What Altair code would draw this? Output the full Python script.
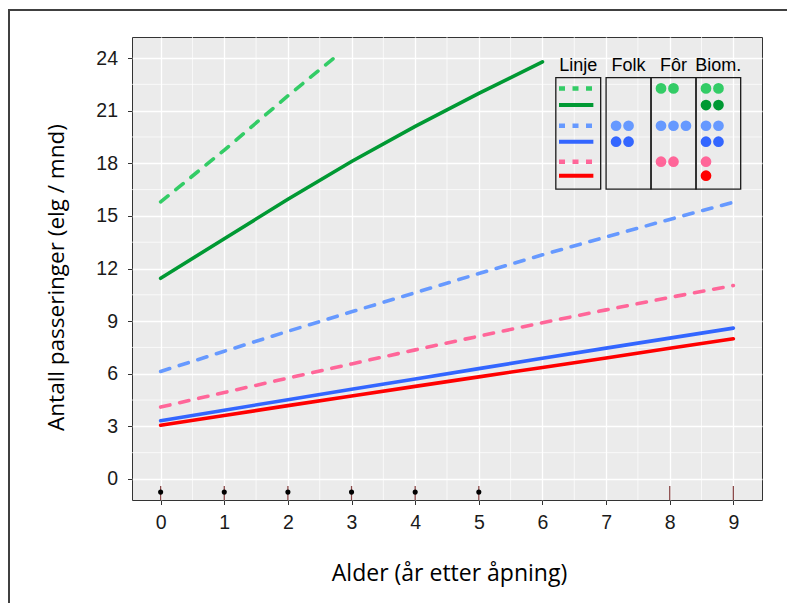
import altair as alt
import pandas as pd

# Modellerte passeringer per måned etter alder på passasjen
alder_gronn_stiplet = [0, 1, 2, 2.75]
gronn_stiplet = [15.8, 18.75, 21.85, 24.08]
alder_gronn_hel = [0, 1, 2, 3, 4, 5, 6]
gronn_hel = [11.44, 13.7, 15.95, 18.1, 20.1, 21.98, 23.78]
alder_full = [0, 1, 2, 3, 4, 5, 6, 7, 8, 9]
blaa_stiplet = [6.13, 7.28, 8.42, 9.53, 10.62, 11.71, 12.78, 13.8, 14.8, 15.78]
rosa_stiplet = [4.10, 4.93, 5.75, 6.56, 7.36, 8.14, 8.91, 9.64, 10.35, 11.03]
blaa_hel = [3.32, 3.92, 4.52, 5.11, 5.70, 6.29, 6.88, 7.46, 8.03, 8.60]
rod_hel = [3.06, 3.62, 4.18, 4.73, 5.28, 5.82, 6.36, 6.90, 7.45, 7.99]

# Observerte år (rug nederst)
obs_alder_prikk = [0, 1, 2, 3, 4, 5]
obs_alder_strek = [0, 1, 2, 3, 4, 5, 8, 9]

# Forklaringsmatrise
serier = ["gronn_stiplet", "gronn_hel", "blaa_stiplet", "blaa_hel", "rosa_stiplet", "rod_hel"]
farger = ["#33CC66", "#009933", "#6699FF", "#3366FF", "#FF6699", "#FF0000"]
stiplet = [True, False, True, False, True, False]
kolonner = ["Linje", "Folk", "Fôr", "Biom."]
antall_folk = [0, 0, 2, 2, 0, 0]
antall_for = [2, 0, 3, 0, 2, 0]
antall_biom = [2, 2, 2, 2, 1, 1]

# Akser
x_ticks = [0, 1, 2, 3, 4, 5, 6, 7, 8, 9]
y_ticks = [0, 3, 6, 9, 12, 15, 18, 21, 24]
x_minor = [0.5, 1.5, 2.5, 3.5, 4.5, 5.5, 6.5, 7.5, 8.5]
y_minor = [1.5, 4.5, 7.5, 10.5, 13.5, 16.5, 19.5, 22.5]

# Plassering av forklaringen (i dataenheter)
leg_venstre = [6.21, 7.0, 7.706, 8.413]
leg_hoyre = [6.915, 7.706, 8.413, 9.115]
leg_topp, leg_bunn = 22.88, 16.53
leg_rad_y = [22.27, 21.32, 20.14, 19.23, 18.09, 17.29]
leg_tekst_y = 23.24
leg_linje_x = (6.26, 6.80)
prikk_start, prikk_steg = 0.157, 0.196

X_DOM = [-0.45, 9.45]
Y_DOM = [-1.2, 25.2]

xs = alt.Scale(domain=X_DOM, nice=False, zero=False)
ys = alt.Scale(domain=Y_DOM, nice=False, zero=False)
fs = alt.Scale(domain=serier, range=farger)

# Kurvedata i langt format
rader = []
for a, v in zip(alder_gronn_stiplet, gronn_stiplet):
    rader.append({"serie": "gronn_stiplet", "alder": a, "verdi": v, "stiplet": True})
for a, v in zip(alder_gronn_hel, gronn_hel):
    rader.append({"serie": "gronn_hel", "alder": a, "verdi": v, "stiplet": False})
for navn, verdier, st in [("blaa_stiplet", blaa_stiplet, True), ("rosa_stiplet", rosa_stiplet, True),
                          ("blaa_hel", blaa_hel, False), ("rod_hel", rod_hel, False)]:
    for a, v in zip(alder_full, verdier):
        rader.append({"serie": navn, "alder": a, "verdi": v, "stiplet": st})
kurver = pd.DataFrame(rader)

x_axis = alt.Axis(values=x_ticks, format="d", title="Alder (år etter åpning)", titleFont="Open Sans",
                  titleFontSize=23, titleFontWeight="normal", titleColor="#000000",
                  titleBaseline="alphabetic", titleY=80, titleX=317,
                  labelFont="Liberation Sans", labelFontSize=19.5, labelColor="#1a1a1a",
                  labelPadding=9, tickSize=4.5, tickColor="#333333", tickWidth=1,
                  domain=False, grid=True, gridColor="white", gridWidth=1.3, labelFlush=False)
y_axis = alt.Axis(values=y_ticks, format="d", title="Antall passeringer (elg / mnd)",
                  titleFont="Open Sans",
                  titleFontSize=22.5, titleFontWeight="normal", titleColor="#000000",
                  titleBaseline="alphabetic", titleX=-69, titleY=240, titleAngle=270,
                  titleAlign="center",
                  labelFont="Liberation Sans", labelFontSize=19.5, labelColor="#1a1a1a",
                  labelPadding=10, tickSize=4.5, tickColor="#333333", tickWidth=1,
                  domain=False, grid=True, gridColor="white", gridWidth=1.3, labelFlush=False)

# Hjelpelinjer (minor) – aksene med hovedrutenett hektes på disse lagene
minor_x_df = pd.DataFrame({"x": x_minor})
minor_y_df = pd.DataFrame({"y": y_minor})
grid_x = alt.Chart(minor_x_df).mark_rule(color="white", strokeWidth=0.7).encode(
    x=alt.X("x:Q", scale=xs, axis=x_axis))
grid_y = alt.Chart(minor_y_df).mark_rule(color="white", strokeWidth=0.7).encode(
    y=alt.Y("y:Q", scale=ys, axis=y_axis))

hel = alt.Chart(kurver).transform_filter("!datum.stiplet").mark_line(
    strokeWidth=3.6, strokeCap="round").encode(
    x=alt.X("alder:Q", scale=xs),
    y=alt.Y("verdi:Q", scale=ys),
    color=alt.Color("serie:N", scale=fs, legend=None),
    detail="serie:N",
    order="alder:Q",
)
stip = alt.Chart(kurver).transform_filter("datum.stiplet").mark_line(
    strokeWidth=3.6, strokeCap="round", strokeDash=[9.5, 10]).encode(
    x=alt.X("alder:Q", scale=xs),
    y=alt.Y("verdi:Q", scale=ys),
    color=alt.Color("serie:N", scale=fs, legend=None),
    detail="serie:N",
    order="alder:Q",
)

# Rug nederst
strek_df = pd.DataFrame({"alder": obs_alder_strek, "y1": [-0.4] * len(obs_alder_strek),
                         "y2": [Y_DOM[0]] * len(obs_alder_strek)})
streker = alt.Chart(strek_df).mark_rule(color="#8B4A4A", strokeWidth=1.3).encode(
    x=alt.X("alder:Q", scale=xs), y=alt.Y("y1:Q", scale=ys), y2="y2:Q")
prikk_df = pd.DataFrame({"alder": obs_alder_prikk, "y": [-0.75] * len(obs_alder_prikk)})
prikker = alt.Chart(prikk_df).mark_circle(color="black", opacity=1, size=26).encode(
    x=alt.X("alder:Q", scale=xs), y=alt.Y("y:Q", scale=ys))

# Forklaring: bokser, overskrifter, linjeprøver og prikker
boks_df = pd.DataFrame({"x1": leg_venstre, "x2": leg_hoyre,
                        "y1": [leg_topp] * 4, "y2": [leg_bunn] * 4})
bokser = alt.Chart(boks_df).mark_rect(filled=False, stroke="#1a1a1a", strokeWidth=1.3).encode(
    x=alt.X("x1:Q", scale=xs), x2="x2:Q", y=alt.Y("y1:Q", scale=ys), y2="y2:Q")

tekst_df = pd.DataFrame({"tekst": kolonner,
                         "x": [(a + b) / 2 for a, b in zip(leg_venstre, leg_hoyre)],
                         "y": [leg_tekst_y] * 4})
overskrift = alt.Chart(tekst_df).mark_text(font="Liberation Sans", fontSize=18, color="black",
                                           baseline="alphabetic", align="center").encode(
    x=alt.X("x:Q", scale=xs), y=alt.Y("y:Q", scale=ys), text="tekst:N")

prove_df = pd.DataFrame({"serie": serier, "stiplet": stiplet, "y": leg_rad_y,
                         "x1": [leg_linje_x[0]] * 6, "x2": [leg_linje_x[1]] * 6})
prove_hel = alt.Chart(prove_df).transform_filter("!datum.stiplet").mark_rule(strokeWidth=4).encode(
    x=alt.X("x1:Q", scale=xs), x2="x2:Q", y=alt.Y("y:Q", scale=ys),
    color=alt.Color("serie:N", scale=fs, legend=None))
prove_stip = alt.Chart(prove_df).transform_filter("datum.stiplet").mark_rule(
    strokeWidth=4.5, strokeDash=[6, 7.5]).encode(
    x=alt.X("x1:Q", scale=xs), x2="x2:Q", y=alt.Y("y:Q", scale=ys),
    color=alt.Color("serie:N", scale=fs, legend=None))

dot_rader = []
for kol, antall in zip([1, 2, 3], [antall_folk, antall_for, antall_biom]):
    for i, n in enumerate(antall):
        for k in range(n):
            dot_rader.append({"serie": serier[i],
                              "x": leg_venstre[kol] + prikk_start + k * prikk_steg,
                              "y": leg_rad_y[i]})
dot_df = pd.DataFrame(dot_rader)
leg_prikker = alt.Chart(dot_df).mark_circle(size=115, opacity=1).encode(
    x=alt.X("x:Q", scale=xs), y=alt.Y("y:Q", scale=ys),
    color=alt.Color("serie:N", scale=fs, legend=None))

# Ytre ramme rundt figuren
ramme = alt.Chart(pd.DataFrame({"r": [0]})).mark_rect(
    filled=False, stroke="#404040", strokeWidth=2).encode(
    x=alt.value(-123), x2=alt.value(720), y=alt.value(-27), y2=alt.value(700))

chart = alt.layer(
    grid_x, grid_y, hel, stip, streker, prikker,
    bokser, overskrift, prove_hel, prove_stip, leg_prikker, ramme,
).properties(
    width=630, height=463,
    autosize=alt.AutoSizeParams(type="none"),
    padding={"left": 132, "top": 37, "right": 25, "bottom": 103},
    background="white",
).configure_view(
    fill="#EBEBEB", stroke="#333333", strokeWidth=1,
)

chart.save("out.html", embed_options={"renderer": "svg", "actions": False})
